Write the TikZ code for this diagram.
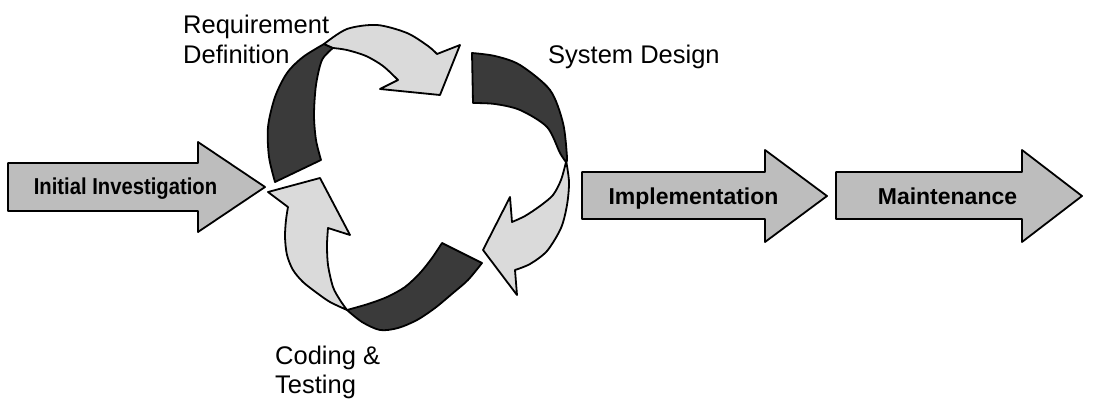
\documentclass[tikz,border=0pt]{standalone}
\usepackage{fontspec}
\setmainfont{Liberation Sans}
\definecolor{strfill}{HTML}{BDBDBD}
\definecolor{lightfill}{HTML}{DADADA}
\definecolor{darkfill}{HTML}{3A3A3A}
\begin{document}
\begin{tikzpicture}[x=1pt,y=-1pt,
  outl/.style={draw=black,line width=1.8pt,line join=round},
  straightarrow/.style={outl,fill=strfill},
  lightpart/.style={outl,fill=lightfill},
  darkpart/.style={outl,fill=darkfill},
  lbl/.style={font=\fontsize{25.5}{30}\selectfont,inner sep=0pt,anchor=base west},
  arrowtxt/.style={font=\bfseries\fontsize{23}{27}\selectfont,inner sep=0pt,anchor=base}]
\useasboundingbox (0,0) rectangle (1098,407);
% straight arrows
\draw[straightarrow] (8,163) -- (198,163) -- (198,142) -- (265,187) -- (198,232) -- (198,211) -- (8,211) -- cycle;
\draw[straightarrow] (582,172) -- (765,172) -- (765,150) -- (827,196) -- (765,242) -- (765,219) -- (582,219) -- cycle;
\draw[straightarrow] (836,172) -- (1022,172) -- (1022,150) -- (1082,196) -- (1022,242) -- (1022,219) -- (836,219) -- cycle;
\node[arrowtxt] (init) at (125.5,194) {\scalebox{0.88}[1]{Initial Investigation}};
\node[arrowtxt] (impl) at (693.5,204) {Implementation};
\node[arrowtxt] (maint) at (947.5,204) {Maintenance};
% cycle arrow A (Requirement Definition)
\draw[darkpart] plot[smooth] coordinates {(275,182) (269,157) (268,127) (275,97) (287,73) (303,57) (324,44)}
  -- (333,48) -- plot[smooth] coordinates {(333,48) (322,60) (316,85) (314,115) (316,140) (321,160)} -- cycle;
\draw[lightpart] plot[smooth] coordinates {(324,44) (347,29) (377,25) (407,33) (428,46) (437,54)}
  -- (460,45) -- (440,95) -- (380,89) -- (398,80)
  -- plot[smooth] coordinates {(398,80) (383,66) (366,56) (347,50) (333,48)} -- cycle;
% cycle arrow B (System Design)
\draw[darkpart] plot[smooth] coordinates {(472,53) (495,56) (520,65) (550,90) (563,123) (567,157) (566,162)}
  -- plot[smooth] coordinates {(566,162) (560,153) (547,127) (520,110) (495,104) (473,103)} -- cycle;
\draw[lightpart] plot[smooth] coordinates {(566,160) (569,182) (567,205) (561,228) (547,251) (530,264) (515,270)}
  -- (517,295) -- (483,250) -- (510,197) -- (512,222)
  -- plot[smooth] coordinates {(512,222) (525,216) (540,206) (553,195) (561,180) (566,162)} -- cycle;
% cycle arrow C (Coding & Testing)
\draw[darkpart] plot[smooth] coordinates {(482,263) (468,280) (453,293) (435,308) (417,320) (398,328) (380,330) (362,322) (347,310)}
  -- plot[smooth] coordinates {(347,310) (368,304) (387,297) (405,287) (420,273) (432,258) (442,243)} -- cycle;
\draw[lightpart] plot[smooth] coordinates {(347,310) (330,302) (317,293) (303,282) (293,270) (287,255) (285,237) (286,220) (288,207)}
  -- (268,192) -- (320,178) -- (350,235) -- (328,228)
  -- plot[smooth] coordinates {(328,228) (327,245) (328,265) (333,287) (340,300) (347,310)} -- cycle;
% labels
\node[lbl] (req1) at (183,33) {Requirement};
\node[lbl] (req2) at (183,63) {Definition};
\node[lbl] (sys) at (548,63) {System Design};
\node[lbl] (cod1) at (275,364) {Coding \&};
\node[lbl] (cod2) at (275,393) {Testing};
\end{tikzpicture}
\end{document}
